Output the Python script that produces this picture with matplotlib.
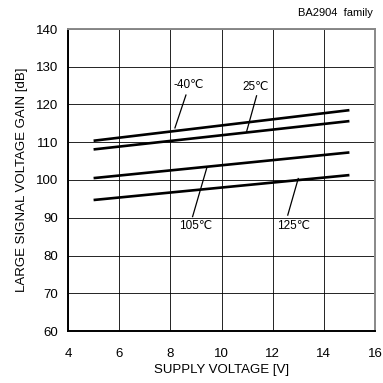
import matplotlib
matplotlib.use("Agg")
import matplotlib.pyplot as plt

plt.rcParams['font.family'] = ['Liberation Sans', 'DejaVu Sans']

supply_v = [5, 15]
gain_m40 = [110.4, 118.5]
gain_25 = [108.1, 115.6]
gain_105 = [100.5, 107.3]
gain_125 = [94.7, 101.3]

series = [("-40℃", gain_m40), ("25℃", gain_25), ("105℃", gain_105), ("125℃", gain_125)]
# label text pos, leader start (near text), leader end (on line)
labels = {
    "-40℃": ((8.72, 125.2), (8.61, 122.5), (8.18, 113.8)),
    "25℃": ((11.35, 124.7), (11.37, 122.3), (10.98, 112.8)),
    "105℃": ((9.0, 87.8), (8.87, 90.3), (9.42, 103.1)),
    "125℃": ((12.82, 87.8), (12.59, 90.7), (13.0, 100.4)),
}

xticks = [4, 6, 8, 10, 12, 14, 16]
yticks = [60, 70, 80, 90, 100, 110, 120, 130, 140]

fig = plt.figure(figsize=(3.83, 3.83), dpi=100)
ax = fig.add_axes([68/383, 1-331/383, (375-68)/383, (331-29)/383])

for name, g in series:
    ax.plot(supply_v, g, color='black', lw=1.9, solid_capstyle='butt', zorder=3)
    (tx, ty), (sx, sy), (ex, ey) = labels[name]
    ax.text(tx, ty, name, ha='center', va='center', fontsize=8.5)
    ax.plot([sx, ex], [sy, ey], color='black', lw=0.9, zorder=3)

ax.set_xlim(4, 16)
ax.set_ylim(60, 140)
ax.set_xticks(xticks)
ax.set_yticks(yticks)
ax.grid(True, color='black', lw=0.6)
ax.tick_params(length=0, labelsize=9.5)
ax.tick_params(axis='y', pad=7)
ax.tick_params(axis='x', pad=12)
for s in ['left', 'bottom']:
    ax.spines[s].set_linewidth(1.4)
    ax.spines[s].set_color('black')
for s in ['top', 'right']:
    ax.spines[s].set_linewidth(1.4)
    ax.spines[s].set_color('#888888')
ax.set_xlabel("SUPPLY VOLTAGE [V]", fontsize=9.5, labelpad=3)
ax.set_ylabel("LARGE SIGNAL VOLTAGE GAIN [dB]", fontsize=9.5, labelpad=6)
fig.text(373/383, 1-13/383, "BA2904  family", ha='right', va='center', fontsize=8)

fig.savefig("out.png", dpi=100)
